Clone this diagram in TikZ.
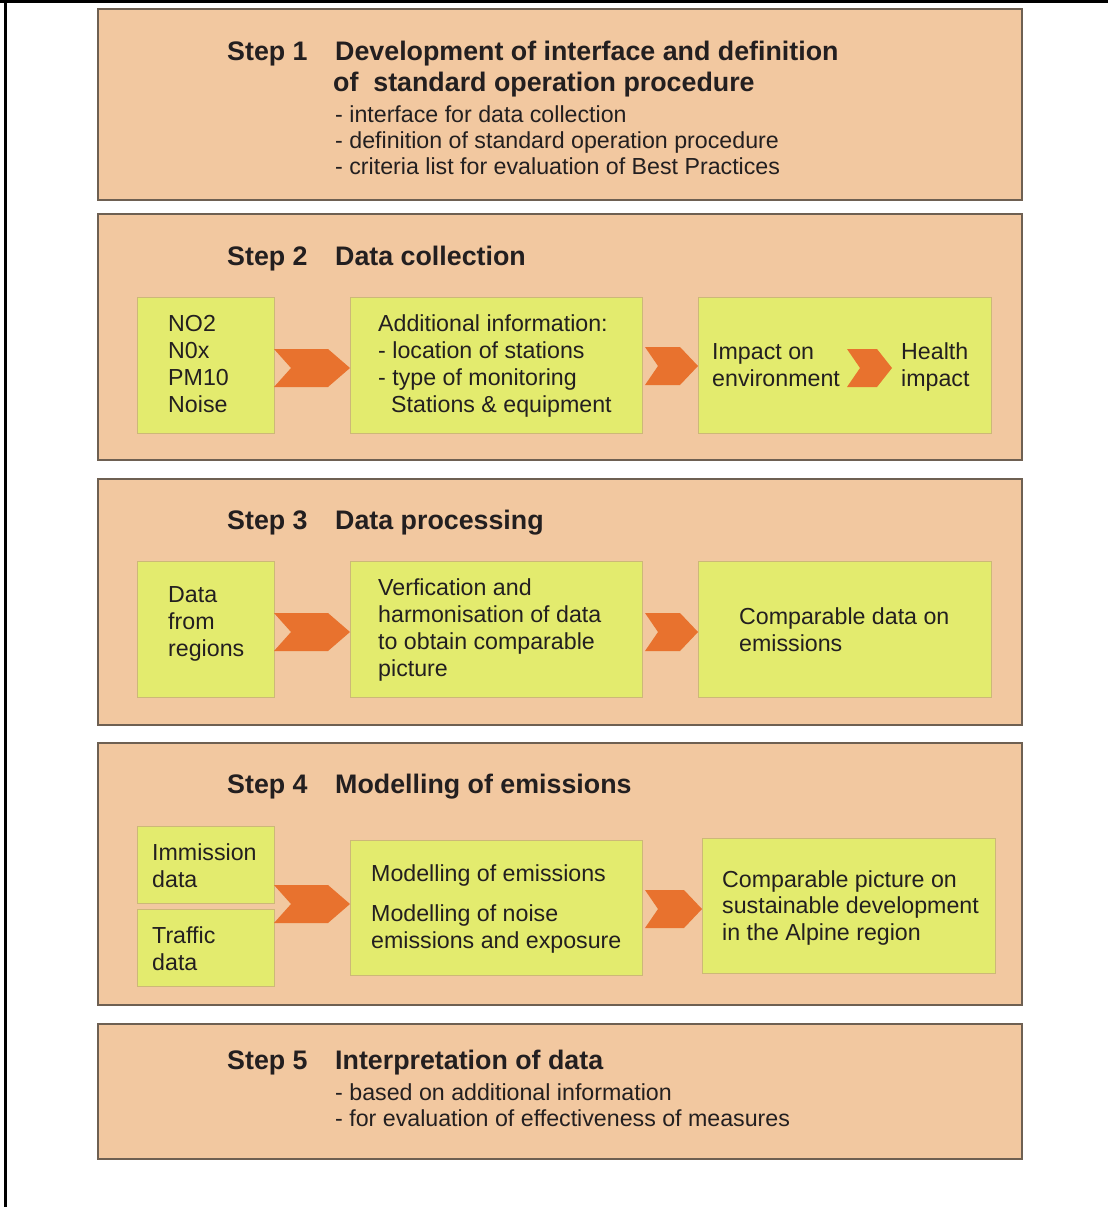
\documentclass[tikz,border=0pt]{standalone}
\usepackage{fontspec}
\setmainfont{Liberation Sans}
\usetikzlibrary{calc}
\definecolor{stagefill}{HTML}{F2C8A0}
\definecolor{stageline}{HTML}{6E6052}
\definecolor{cellfill}{HTML}{E3EB6E}
\definecolor{cellline}{HTML}{CDB878}
\definecolor{chevc}{HTML}{E8722E}
\definecolor{ink}{HTML}{231F20}
\newcommand\bodyfont{\fontsize{23.2}{27}\selectfont}
\newcommand\headfont{\fontsize{26.8}{30}\selectfont\bfseries}
\newcommand\mybox[6]{\node[#2, anchor=north west, inner sep=0pt, outer sep=0pt,
  minimum width={(#5-#3)*1pt}, minimum height={(#6-#4)*1pt}] (#1) at (#3,#4) {};}
\newcommand\tl[5]{\foreach \tx [count=\i from 0] in {#5} {\node[txt] (#1\i) at (#2,{#3+#4*\i}) {\tx};}}
% chevron: #1 left point, #2 right point, #3 dy (down) from left point, #4 half height, #5 notch, #6 tip
\newcommand\chev[6]{%
  \fill[chevc] let \p1=#1, \p2=#2 in
  (\x1, {\y1-(#3pt)+(#4pt)}) -- ({\x2-#6pt}, {\y1-(#3pt)+(#4pt)}) -- (\x2, {\y1-(#3pt)})
  -- ({\x2-#6pt}, {\y1-(#3pt)-(#4pt)}) -- (\x1, {\y1-(#3pt)-(#4pt)}) -- ({\x1+#5pt}, {\y1-(#3pt)}) -- cycle;}
\begin{document}
\begin{tikzpicture}[x=1pt,y=-1pt,
  stage/.style={draw=stageline, fill=stagefill, line width=1.6pt},
  cell/.style={draw=cellline, fill=cellfill, line width=0.9pt},
  txt/.style={font=\bodyfont, text=ink, anchor=base west, inner sep=0pt},
  head/.style={font=\headfont, text=ink, anchor=base west, inner sep=0pt}]
\useasboundingbox (0,0) rectangle (1108,1207);
\fill[white] (0,0) rectangle (1108,1207);
\draw[line width=3pt] (0,1.5) -- (1108,1.5);
\draw[line width=3.5pt] (5.5,0) -- (5.5,1207);

% ---------- Step 1
\mybox{s1}{stage}{98}{9}{1022}{200}
\node[head] (h1) at (227,61) {Step 1};
\node[head] (t1a) at (335,61) {Development of interface and definition};
\node[head] (t1b) at (333,91) {of~ standard operation procedure};
\tl{b1}{335}{122}{26}{- interface for data collection,- definition of standard operation procedure,- criteria list for evaluation of Best Practices}

% ---------- Step 2
\mybox{s2}{stage}{98}{214}{1022}{460}
\node[head] (h2) at (227,265) {Step 2};
\node[head] (t2) at (335,265) {Data collection};
\mybox{a2}{cell}{137}{297}{274}{433}
\mybox{b2}{cell}{350}{297}{642}{433}
\mybox{c2}{cell}{698}{297}{991}{433}
\tl{a2t}{168}{331}{27}{NO2,N0x,PM10,Noise}
\tl{b2t}{378}{331}{27}{Additional information:,- location of stations,- type of monitoring,\hspace*{13pt}Stations \& equipment}
\tl{c2t}{712}{359}{27}{Impact on,environment}
\tl{c2u}{901}{359}{27}{Health,impact}
\chev{(a2.east)}{(b2.west)}{3}{19}{17}{22}
\chev{([xshift=3pt]b2.east)}{(c2.west)}{1}{19}{13}{18}
\coordinate (c2l) at (847,368);
\coordinate (c2r) at (892,368);
\chev{(c2l)}{(c2r)}{0}{19}{13}{15}

% ---------- Step 3
\mybox{s3}{stage}{98}{479}{1022}{725}
\node[head] (h3) at (227,529) {Step 3};
\node[head] (t3) at (335,529) {Data processing};
\mybox{a3}{cell}{137}{561}{274}{697}
\mybox{b3}{cell}{350}{561}{642}{697}
\mybox{c3}{cell}{698}{561}{991}{697}
\tl{a3t}{168}{602}{27}{Data,from,regions}
\tl{b3t}{378}{595}{27}{Verfication and,harmonisation of data,to obtain comparable,picture}
\tl{c3t}{739}{624}{27}{Comparable data on,emissions}
\chev{(a3.east)}{(b3.west)}{3}{19}{17}{22}
\chev{([xshift=3pt]b3.east)}{(c3.west)}{3}{19}{13}{18}

% ---------- Step 4
\mybox{s4}{stage}{98}{743}{1022}{1005}
\node[head] (h4) at (227,793) {Step 4};
\node[head] (t4) at (335,793) {Modelling of emissions};
\mybox{i4}{cell}{137}{826}{274}{903}
\mybox{f4}{cell}{137}{909}{274}{986}
\mybox{m4}{cell}{350}{840}{642}{975}
\mybox{r4}{cell}{702}{838}{995}{973}
\tl{i4t}{152}{860}{27}{Immission,data}
\tl{f4t}{152}{943}{27}{Traffic,data}
\node[txt] (m4a) at (371,881) {Modelling of emissions};
\tl{m4t}{371}{921}{27}{Modelling of noise,emissions and exposure}
\tl{r4t}{722}{887}{26.5}{Comparable picture on,sustainable development,in the Alpine region}
\coordinate (j4) at ($(i4.south east)!0.5!(f4.north east)$);
\chev{(j4)}{(m4.west)}{-2}{19}{17}{22}
\chev{([xshift=3pt]m4.east)}{(r4.west)}{1.5}{19}{13}{18}

% ---------- Step 5
\mybox{s5}{stage}{98}{1024}{1022}{1159}
\node[head] (h5) at (227,1069) {Step 5};
\node[head] (t5) at (335,1069) {Interpretation of data};
\tl{b5}{335}{1100}{26}{- based on additional information,- for evaluation of effectiveness of measures}
\end{tikzpicture}
\end{document}
